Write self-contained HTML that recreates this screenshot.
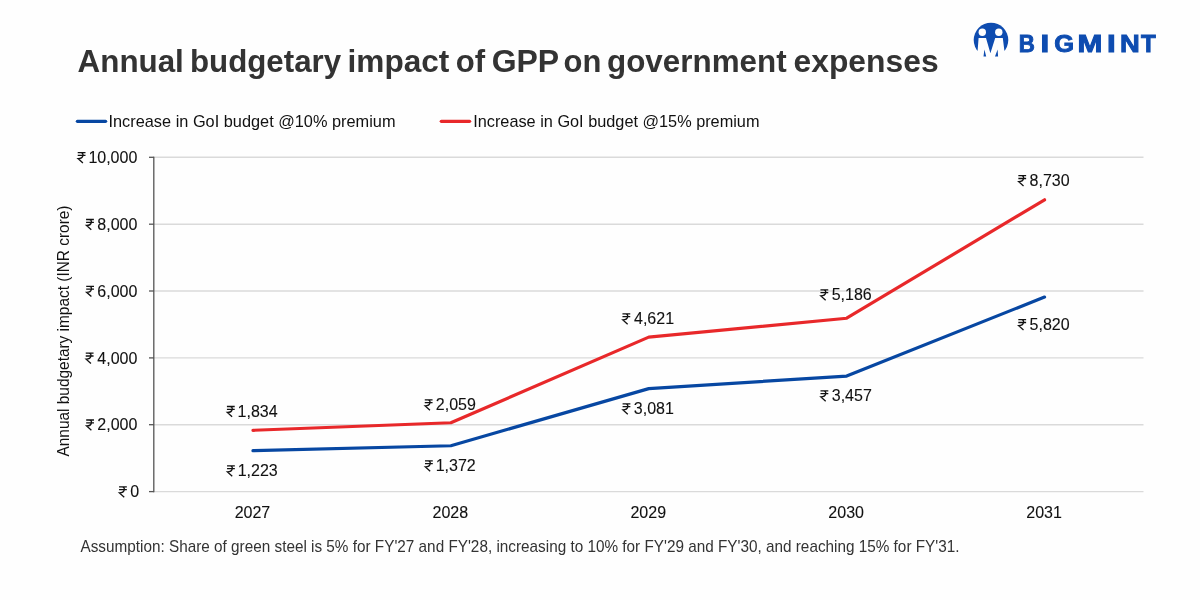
<!DOCTYPE html>
<html><head><meta charset="utf-8">
<style>
html,body{margin:0;padding:0;background:#fefefe;}
body{width:1200px;height:600px;overflow:hidden;position:relative;}
svg{position:absolute;left:0;top:0;display:block;will-change:transform;}
text{font-family:"Liberation Sans", sans-serif;}
</style></head>
<body>
<svg width="1200" height="600" viewBox="0 0 1200 600">
<defs>
<symbol id="rs" overflow="visible">
<path d="M0.2,-10.3 H8 M0.2,-7.5 H8 M3.4,-10.3 C6.5,-10.3 6.7,-4.3 0.6,-4.3 L5.4,0" fill="none" stroke="#111" stroke-width="1.3"/>
</symbol>
</defs>
<rect width="1200" height="600" fill="#fefefe"/>

<!-- Title -->
<g font-size="31.6" font-weight="bold" fill="#333333">
<text x="77.62" y="71.5" textLength="106.20" lengthAdjust="spacingAndGlyphs">Annual</text>
<text x="189.94" y="71.5" textLength="151.23" lengthAdjust="spacingAndGlyphs">budgetary</text>
<text x="347.54" y="71.5" textLength="101.84" lengthAdjust="spacingAndGlyphs">impact</text>
<text x="455.79" y="71.5" textLength="29.35" lengthAdjust="spacingAndGlyphs">of</text>
<text x="491.69" y="71.5" textLength="67.50" lengthAdjust="spacingAndGlyphs">GPP</text>
<text x="563.59" y="71.5" textLength="37.83" lengthAdjust="spacingAndGlyphs">on</text>
<text x="607.01" y="71.5" textLength="179.67" lengthAdjust="spacingAndGlyphs">government</text>
<text x="793.56" y="71.5" textLength="145.05" lengthAdjust="spacingAndGlyphs">expenses</text>
</g>

<!-- Logo -->
<g>
<circle cx="991" cy="40.1" r="17.3" fill="#0e4cb0"/>
<circle cx="982.3" cy="32.3" r="3.7" fill="#fefefe"/>
<circle cx="998.8" cy="32.3" r="3.7" fill="#fefefe"/>
<path d="M978.6,38 H986 L990.4,53.3 L995.2,38 H1002.8 L1004.4,50.8 H1010 V60 H970 V50.8 H977.6 Z" fill="#fefefe"/>
<path d="M984.4,49.4 L983.5,56.6 H986.2 Z M997.6,49.4 L995.0,56.6 H998.1 Z" fill="#0e4cb0"/>
<g font-size="23.40" font-weight="bold" fill="#0e4cb0" stroke="#0e4cb0" stroke-width="0.9" stroke-linejoin="miter">
<text transform="translate(1018.76,51.7) scale(0.953,1)">B</text>
<text transform="translate(1040.56,51.7) scale(1.335,1)">I</text>
<text transform="translate(1054.30,51.7) scale(1.089,1)">G</text>
<text transform="translate(1077.45,51.7) scale(1.277,1)">M</text>
<text transform="translate(1106.96,51.7) scale(1.335,1)">I</text>
<text transform="translate(1119.92,51.7) scale(1.170,1)">N</text>
<text transform="translate(1140.88,51.7) scale(1.030,1)">T</text>
</g>
</g>

<!-- Legend -->
<line x1="77.4" y1="121.3" x2="105.6" y2="121.3" stroke="#0747a2" stroke-width="3.3" stroke-linecap="round"/>
<text x="108.5" y="127.3" font-size="17" fill="#111" textLength="287" lengthAdjust="spacingAndGlyphs">Increase in GoI budget @10% premium</text>
<line x1="441.3" y1="121.3" x2="469.6" y2="121.3" stroke="#e8282a" stroke-width="3.3" stroke-linecap="round"/>
<text x="473.2" y="127.3" font-size="17" fill="#111" textLength="286.3" lengthAdjust="spacingAndGlyphs">Increase in GoI budget @15% premium</text>

<!-- Grid -->
<g stroke="#dadada" stroke-width="1.4">
<line x1="154" y1="157.3" x2="1143.5" y2="157.3"/>
<line x1="154" y1="224.2" x2="1143.5" y2="224.2"/>
<line x1="154" y1="291" x2="1143.5" y2="291"/>
<line x1="154" y1="357.9" x2="1143.5" y2="357.9"/>
<line x1="154" y1="424.7" x2="1143.5" y2="424.7"/>
<line x1="154" y1="491.6" x2="1143.5" y2="491.6"/>
</g>
<g stroke="#555" stroke-width="1.3">
<line x1="153.8" y1="156.7" x2="153.8" y2="492.3"/>
<line x1="149" y1="157.3" x2="154" y2="157.3"/>
<line x1="149" y1="224.2" x2="154" y2="224.2"/>
<line x1="149" y1="291" x2="154" y2="291"/>
<line x1="149" y1="357.9" x2="154" y2="357.9"/>
<line x1="149" y1="424.7" x2="154" y2="424.7"/>
<line x1="149" y1="491.6" x2="154" y2="491.6"/>
</g>

<!-- Y title -->
<text transform="translate(68.5,456.5) rotate(-90)" font-size="16" fill="#111" textLength="251" lengthAdjust="spacingAndGlyphs">Annual budgetary impact (INR crore)</text>

<!-- CHART START -->
<polyline points="252.95,450.72 450.85,445.73 648.75,388.60 846.65,376.03 1044.55,297.04" fill="none" stroke="#0747a2" stroke-width="3.2" stroke-linejoin="round" stroke-linecap="round"/>
<polyline points="252.95,430.29 450.85,422.77 648.75,337.12 846.65,318.23 1044.55,199.76" fill="none" stroke="#e8282a" stroke-width="3.2" stroke-linejoin="round" stroke-linecap="round"/>
<g font-size="16" fill="#111" stroke="#111" stroke-width="0.1">
<use href="#rs" x="77.51" y="162.90"/><text x="88.39" y="162.90">10,000</text>
<use href="#rs" x="85.88" y="229.80"/><text x="97.29" y="229.80">8,000</text>
<use href="#rs" x="86.00" y="296.60"/><text x="97.29" y="296.60">6,000</text>
<use href="#rs" x="85.55" y="363.50"/><text x="97.29" y="363.50">4,000</text>
<use href="#rs" x="85.99" y="430.30"/><text x="97.29" y="430.30">2,000</text>
<use href="#rs" x="118.85" y="497.20"/><text x="130.33" y="497.20">0</text>
</g>
<g font-size="16" fill="#111" stroke="#111" stroke-width="0.1">
<use href="#rs" x="226.72" y="416.80"/><text x="237.61" y="416.80">1,834</text>
<use href="#rs" x="226.84" y="476.20"/><text x="237.72" y="476.20">1,223</text>
<use href="#rs" x="424.56" y="410.20"/><text x="435.86" y="410.20">2,059</text>
<use href="#rs" x="424.79" y="471.20"/><text x="435.67" y="471.20">1,372</text>
<use href="#rs" x="622.25" y="324.20"/><text x="633.99" y="324.20">4,621</text>
<use href="#rs" x="622.38" y="414.20"/><text x="633.87" y="414.20">3,081</text>
<use href="#rs" x="820.25" y="300.20"/><text x="831.71" y="300.20">5,186</text>
<use href="#rs" x="820.29" y="401.20"/><text x="831.78" y="401.20">3,457</text>
<use href="#rs" x="1018.14" y="186.00"/><text x="1029.55" y="186.00">8,730</text>
<use href="#rs" x="1018.11" y="330.00"/><text x="1029.57" y="330.00">5,820</text>
</g>
<g font-size="16" fill="#111" stroke="#111" stroke-width="0.1" text-anchor="middle">
<text x="252.45" y="518.4">2027</text>
<text x="450.35" y="518.4">2028</text>
<text x="648.25" y="518.4">2029</text>
<text x="846.15" y="518.4">2030</text>
<text x="1044.05" y="518.4">2031</text>
</g>
<!-- CHART END -->

<!-- Footnote -->
<text x="80.5" y="551.6" font-size="16.2" fill="#333333" textLength="879" lengthAdjust="spacingAndGlyphs">Assumption: Share of green steel is 5% for FY'27 and FY'28, increasing to 10% for FY'29 and FY'30, and reaching 15% for FY'31.</text>
</svg>
</body></html>
